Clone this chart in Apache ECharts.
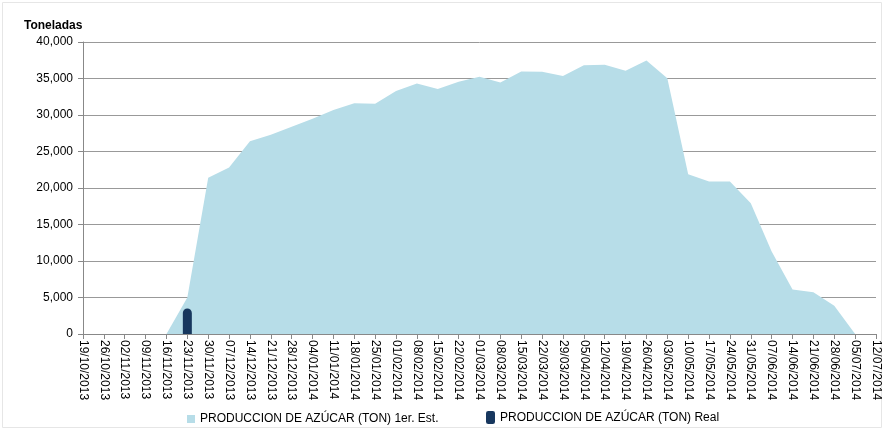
<!DOCTYPE html>
<html>
<head>
<meta charset="utf-8">
<script src="https://cdn.jsdelivr.net/npm/echarts@6/dist/echarts.min.js"></script>
<style>
html,body{margin:0;padding:0;background:#fff;}
#c{width:884px;height:430px;}
</style>
</head>
<body>
<div id="c"></div>
<script>
const categories = ["19/10/2013","26/10/2013","02/11/2013","09/11/2013","16/11/2013","23/11/2013","30/11/2013","07/12/2013","14/12/2013","21/12/2013","28/12/2013","04/01/2014","11/01/2014","18/01/2014","25/01/2014","01/02/2014","08/02/2014","15/02/2014","22/02/2014","01/03/2014","08/03/2014","15/03/2014","22/03/2014","29/03/2014","05/04/2014","12/04/2014","19/04/2014","26/04/2014","03/05/2014","10/05/2014","17/05/2014","24/05/2014","31/05/2014","07/06/2014","14/06/2014","21/06/2014","28/06/2014","05/07/2014","12/07/2014"];
const estimado = [0,0,0,0,0,5000,21400,22800,26400,27300,28400,29500,30700,31600,31550,33300,34300,33550,34550,35250,34450,35970,35920,35330,36800,36900,36060,37480,35050,21890,20900,20900,17920,11290,6080,5710,3880,0,0];
const real = [null,null,null,null,null,3500,null,null,null,null,null,null,null,null,null,null,null,null,null,null,null,null,null,null,null,null,null,null,null,null,null,null,null,null,null,null,null,null,null];
const yTicks = {min:0, max:40000, interval:5000};
const serieNames = ["PRODUCCION DE AZÚCAR (TON) 1er. Est.","PRODUCCION DE AZÚCAR (TON) Real"];

const FONT = "'Liberation Sans', 'Noto Sans', sans-serif";
const chart = echarts.init(document.getElementById('c'), null, {renderer:'canvas'});
chart.setOption({
  animation:false,
  backgroundColor:'#fff',
  textStyle:{fontFamily:FONT},
  graphic:[
    {type:'rect', shape:{x:2.5,y:2.5,width:879,height:425}, style:{fill:'none', stroke:'#e6e6e6', lineWidth:1}},
    {type:'text', left:24, top:20, style:{text:'Toneladas', font:"bold 12px "+FONT, fill:'#000'}}
  ],
  grid:{left:83, right:8, top:42, bottom:96, containLabel:false},
  legend:[
    {data:[{name:serieNames[0], icon:'rect'}], left:187, top:408, itemWidth:8, itemHeight:8, padding:[5,0,5,0],
     textStyle:{fontSize:12, color:'#000', fontFamily:FONT}},
    {data:[{name:serieNames[1], icon:'roundRect'}], left:486, top:406, itemWidth:9, itemHeight:13, padding:[5,0,5,0],
     textStyle:{fontSize:12, color:'#000', fontFamily:FONT}}
  ],
  xAxis:{
    type:'category', data:categories, boundaryGap:false,
    axisLine:{show:true, lineStyle:{color:'#888', width:1}},
    axisTick:{show:true, interval:0, length:5, lineStyle:{color:'#888'}},
    axisLabel:{interval:0, rotate:-90, fontSize:12, color:'#000', margin:6, fontFamily:FONT},
    splitLine:{show:false}
  },
  yAxis:{
    type:'value', min:yTicks.min, max:yTicks.max, interval:yTicks.interval,
    axisLine:{show:true, lineStyle:{color:'#888', width:1}},
    axisTick:{show:true, length:5, lineStyle:{color:'#888'}},
    axisLabel:{fontSize:12, color:'#000', margin:10, fontFamily:FONT,
      formatter:v=>v.toLocaleString('en-US')},
    splitLine:{show:true, lineStyle:{color:'#999', width:1}}
  },
  series:[
    {name:serieNames[0], type:'line', data:estimado, symbol:'none', showSymbol:false,
     lineStyle:{width:0, color:'#b7dde8'}, itemStyle:{color:'#b7dde8'},
     areaStyle:{color:'#b7dde8', opacity:1}, z:2},
    {name:serieNames[1], type:'bar', data:real, barWidth:9,
     itemStyle:{color:'#17375e', borderRadius:[4.5,4.5,0,0]}, z:3}
  ]
});
</script>
</body>
</html>
